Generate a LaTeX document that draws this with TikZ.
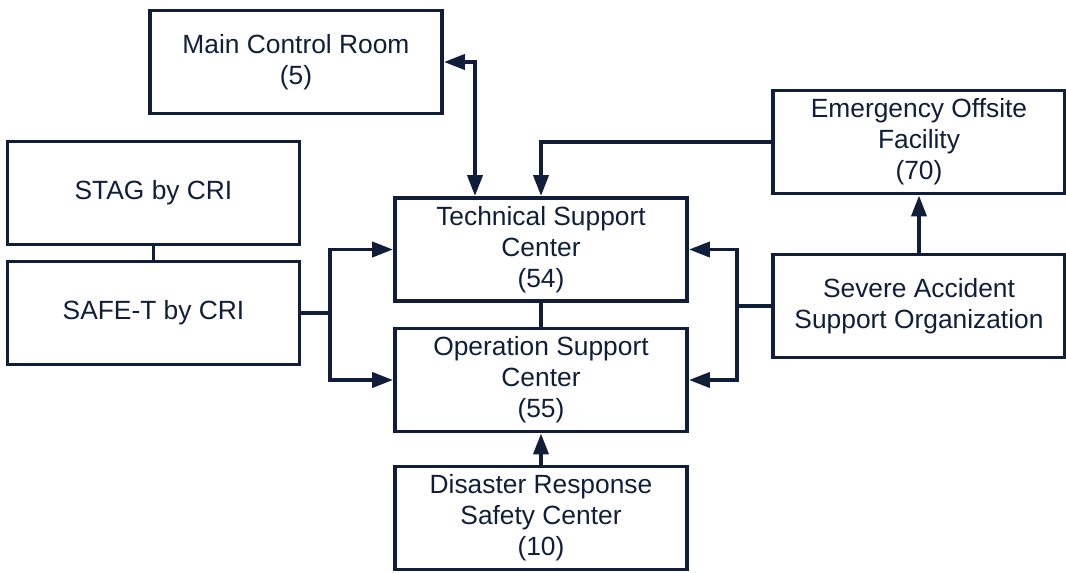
\documentclass[tikz,border=0pt]{standalone}
\usepackage{fontspec}
\setmainfont{Liberation Sans}
\usetikzlibrary{arrows.meta}
\definecolor{navy}{RGB}{16,30,58}

\begin{document}
\begin{tikzpicture}[x=0.02cm,y=-0.02cm,
  line width=2.2pt,draw=navy,
  unit/.style={draw=navy,text=navy,align=center,
    minimum width=5.84cm,minimum height=2.06cm,
    font=\fontsize{15}{17.6}\selectfont},
  tip/.style={-{Triangle[length=0.42cm,width=0.3cm]}},
  tips/.style={{Triangle[length=0.42cm,width=0.3cm]}-{Triangle[length=0.42cm,width=0.3cm]}}]
\useasboundingbox (0,0) rectangle (1066,572);

\node[unit] (MCR) at (296,62) {Main Control Room\\(5)};
\node[unit] (STAG) at (153.5,193) {STAG by CRI};
\node[unit] (SAFET) at (153.5,313) {SAFE-T by CRI};
\node[unit] (TSC) at (541,249.5) {Technical Support\\Center\\(54)};
\node[unit] (OSC) at (541,380) {Operation Support\\Center\\(55)};
\node[unit] (DRSC) at (541,518) {Disaster Response\\Safety Center\\(10)};
\node[unit] (EOF) at (919,142) {Emergency Offsite\\Facility\\(70)};
\node[unit] (SASO) at (919,306) {Severe Accident\\Support Organization};

\coordinate (mcrbend) at (475,62); % corner to the control room.
\coordinate (safebus) at (330,313); % left fork.
\coordinate (sasobus) at (737,306); % right fork.

\draw[tips,navy] (MCR.east) -| (mcrbend |- TSC.north);
\draw[tip,navy] (EOF.west) -| (TSC.north);
\draw[tip,navy] (SASO.north) -- (EOF.south);

\draw[navy] (SASO.west) -- (sasobus);
\draw[tip,navy] (sasobus) |- (TSC.east);
\draw[tip,navy] (sasobus) |- (OSC.east);

\draw[navy] (SAFET.east) -- (safebus);
\draw[tip,navy] (safebus) |- (TSC.west);
\draw[tip,navy] (safebus) |- (OSC.west);

\draw[navy] (STAG.south) -- (SAFET.north);
\draw[navy] (TSC.south) -- (OSC.north);
\draw[tip,navy] (DRSC.north) -- (OSC.south);

\end{tikzpicture}
\end{document}
